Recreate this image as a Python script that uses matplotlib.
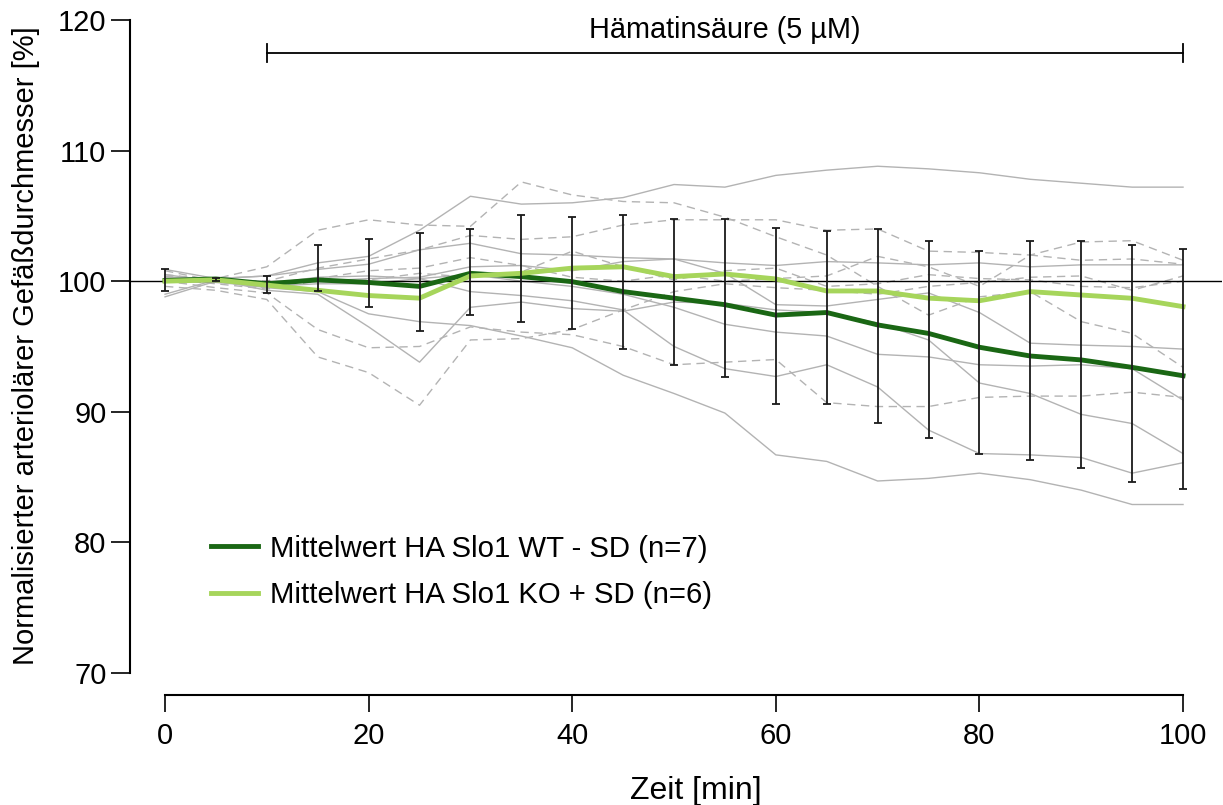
import numpy as np
import matplotlib
matplotlib.use("Agg")
import matplotlib.pyplot as plt

plt.rcParams['font.family'] = ['Liberation Sans', 'DejaVu Sans']

# time points [min]
zeit = [0, 5, 10, 15, 20, 25, 30, 35, 40, 45, 50, 55, 60, 65, 70, 75, 80, 85, 90, 95, 100]

# mean values
wt_mittel = [100.05, 100.17, 99.8, 100.1, 99.9, 99.6, 100.6, 100.35, 99.96, 99.2, 98.7,
             98.2, 97.4, 97.6, 96.65, 96.0, 94.94, 94.27, 93.97, 93.4, 92.76]
ko_mittel = [100.0, 100.1, 99.7, 99.3, 98.9, 98.7, 100.4, 100.6, 101.0, 101.1, 100.35,
             100.55, 100.17, 99.25, 99.25, 98.7, 98.5, 99.2, 98.94, 98.69, 98.05]

# standard deviations (WT drawn downwards, KO upwards)
wt_sd = [0.8, 0.17, 0.73, 0.85, 1.9, 3.44, 3.2, 3.45, 3.66, 4.4, 5.14,
         5.56, 6.8, 7.0, 7.53, 7.98, 8.14, 7.94, 8.25, 8.75, 8.69]
ko_sd = [0.91, 0.15, 0.72, 3.47, 4.33, 4.97, 3.6, 4.47, 3.9, 3.97, 4.39,
         4.19, 3.93, 4.59, 4.75, 4.38, 3.8, 3.88, 4.11, 4.08, 4.42]

# single vessels, Slo1 WT (solid)
wt_1 = [100.3, 100.2, 100.4, 101.4, 101.9, 103.9, 106.5, 105.9, 106.0, 106.4, 107.4,
        107.2, 108.1, 108.5, 108.8, 108.6, 108.3, 107.8, 107.5, 107.2, 107.2]
wt_2 = [100.9, 100.2, 100.4, 100.9, 101.3, 102.4, 102.9, 102.1, 102.0, 101.8, 101.7,
        101.4, 101.2, 101.5, 101.4, 101.25, 101.4, 101.1, 101.25, 101.25, 101.25]
wt_3 = [100.0, 100.1, 99.9, 100.0, 100.2, 100.3, 101.1, 101.2, 100.8, 101.5, 101.7,
        100.6, 98.2, 98.1, 98.6, 99.1, 97.6, 95.25, 95.1, 95.0, 94.8]
wt_4 = [100.5, 100.0, 99.8, 100.3, 100.4, 100.2, 100.5, 100.0, 99.6, 99.0, 98.0,
        96.7, 96.1, 95.8, 94.4, 94.2, 93.6, 93.5, 93.6, 93.3, 90.9]
wt_5 = [99.0, 100.1, 99.3, 99.0, 96.5, 93.8, 98.0, 98.4, 97.9, 97.7, 98.4,
        98.3, 97.8, 97.6, 96.8, 95.5, 92.2, 91.4, 89.8, 89.1, 86.8]
wt_6 = [100.2, 99.9, 99.6, 99.8, 99.8, 100.2, 99.2, 98.9, 98.5, 97.8, 95.0,
        93.3, 92.7, 93.6, 91.9, 88.6, 86.8, 86.7, 86.5, 85.3, 86.1]
wt_7 = [98.8, 100.0, 99.5, 99.2, 97.5, 96.9, 96.6, 95.8, 94.9, 92.8, 91.4,
        89.9, 86.7, 86.2, 84.7, 84.9, 85.3, 84.8, 84.0, 82.9, 82.9]

# single vessels, Slo1 KO (dashed)
ko_1 = [100.35, 100.2, 101.1, 103.9, 104.7, 104.3, 104.2, 107.6, 106.6, 106.1, 106.0,
        104.9, 103.4, 102.0, 99.6, 97.4, 98.8, 99.2, 96.9, 96.0, 93.4]
ko_2 = [100.5, 100.1, 100.0, 101.0, 101.7, 102.4, 103.5, 103.2, 103.4, 104.3, 104.7,
        104.7, 104.7, 103.9, 104.0, 102.3, 102.2, 102.0, 103.0, 103.1, 101.6]
ko_3 = [99.6, 99.3, 98.6, 94.2, 93.0, 90.5, 95.5, 95.6, 96.3, 97.8, 99.2,
        99.8, 99.5, 99.3, 99.0, 99.6, 99.9, 100.3, 100.4, 99.3, 100.4]
ko_4 = [100.0, 99.5, 99.1, 96.3, 94.9, 95.0, 96.5, 96.1, 95.9, 95.0, 93.6,
        93.8, 94.0, 90.7, 90.4, 90.4, 91.1, 91.2, 91.2, 91.5, 91.1]
ko_5 = [100.8, 100.0, 99.5, 100.2, 100.8, 101.0, 101.8, 101.2, 100.3, 100.0, 100.5,
        100.0, 100.2, 100.4, 101.9, 101.1, 99.6, 102.0, 101.6, 101.7, 101.3]
ko_6 = [100.2, 99.8, 99.4, 100.0, 100.1, 100.6, 100.3, 100.7, 102.3, 101.1, 100.1,
        100.8, 101.0, 99.6, 99.8, 100.5, 100.2, 100.1, 99.6, 99.5, 100.0]

wt_einzeln = [wt_1, wt_2, wt_3, wt_4, wt_5, wt_6, wt_7]
ko_einzeln = [ko_1, ko_2, ko_3, ko_4, ko_5, ko_6]

dunkelgruen = '#1a6714'
hellgruen = '#a6d55b'
grau = '#b3b3b3'

fig = plt.figure(figsize=(12.23, 8.05), dpi=100)
ax = fig.add_axes([0.1063, 0.164, 0.8929, 0.8112])

for y in wt_einzeln:
    ax.plot(zeit, y, color=grau, lw=1.0, zorder=1)
for y in ko_einzeln:
    ax.plot(zeit, y, color=grau, lw=1.0, ls=(0, (6, 4)), zorder=1)

ax.axhline(100, color='black', lw=1.0, zorder=2)

ax.plot(zeit, wt_mittel, color=dunkelgruen, lw=3.5, zorder=3,
        label='Mittelwert HA Slo1 WT - SD (n=7)')
ax.plot(zeit, ko_mittel, color=hellgruen, lw=3.5, zorder=3,
        label='Mittelwert HA Slo1 KO + SD (n=6)')

# error bars: WT mean - SD up to KO mean + SD
unten = np.array(wt_mittel) - np.array(wt_sd)
oben = np.array(ko_mittel) + np.array(ko_sd)
ax.vlines(zeit, unten, oben, color='#1a1a1a', lw=1.3, zorder=4)
ax.plot(zeit, unten, ls='none', marker='_', ms=6, mew=1.3, color='#1a1a1a', zorder=4)
ax.plot(zeit, oben, ls='none', marker='_', ms=6, mew=1.3, color='#1a1a1a', zorder=4)

# application bar
ax.plot([10, 100], [117.45, 117.45], color='black', lw=1.3, clip_on=False)
ax.plot([10, 10], [116.75, 118.15], color='black', lw=1.3, clip_on=False)
ax.plot([100, 100], [116.75, 118.15], color='black', lw=1.3, clip_on=False)
ax.text(55, 119.2, 'Hämatinsäure (5 µM)', ha='center', va='center', fontsize=20.8)

ax.set_xlim(-3.44, 103.83)
ax.set_ylim(70, 120)
ax.set_xticks([0, 20, 40, 60, 80, 100])
ax.set_yticks([70, 80, 90, 100, 110, 120])

ax.spines['top'].set_visible(False)
ax.spines['right'].set_visible(False)
ax.spines['bottom'].set_position(('outward', 16))
ax.spines['bottom'].set_bounds(0, 100)
ax.spines['left'].set_bounds(70, 120)
for s in ('left', 'bottom'):
    ax.spines[s].set_linewidth(1.5)

ax.tick_params(axis='y', length=14, width=1.2, pad=3, labelsize=21)
ax.tick_params(axis='x', length=12, width=1.2, pad=7, labelsize=21)

ax.set_xlabel('Zeit [min]', fontsize=23)
ax.set_ylabel('Normalisierter arteriolärer Gefäßdurchmesser [%]', fontsize=21)
ax.xaxis.set_label_coords(0.518, -0.158)
ax.yaxis.set_label_coords(-0.082, 0.502)

ax.legend(loc='center left', bbox_to_anchor=(0.0742, 0.155), frameon=False,
          fontsize=21.2, handlelength=1.6, handletextpad=0.4, labelspacing=0.62,
          borderpad=0, borderaxespad=0)

fig.savefig('out.png', dpi=100)
